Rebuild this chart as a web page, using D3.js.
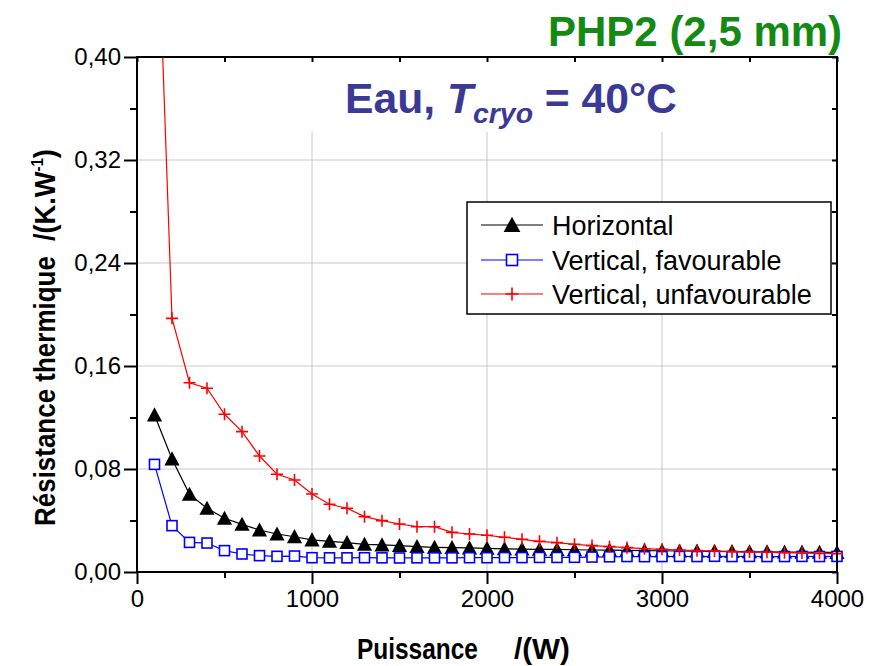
<!DOCTYPE html>
<html>
<head>
<meta charset="utf-8">
<script src="https://cdn.jsdelivr.net/npm/d3@7"></script>
<style>
  body { margin: 0; background: #fff; }
  svg { display: block; }
  text { font-family: Arial, "Liberation Sans", Helvetica, sans-serif; }
</style>
</head>
<body>
<svg width="884" height="666"></svg>
<script>
// puissance (W)
var puissance = [100, 200, 300, 400, 500, 600, 700, 800, 900, 1000,
  1100, 1200, 1300, 1400, 1500, 1600, 1700, 1800, 1900, 2000,
  2100, 2200, 2300, 2400, 2500, 2600, 2700, 2800, 2900, 3000,
  3100, 3200, 3300, 3400, 3500, 3600, 3700, 3800, 3900, 4000];

// résistance thermique (K/W)
var horizontal = [0.122, 0.0878, 0.0603, 0.0495, 0.0417, 0.037, 0.0326, 0.0295, 0.0274, 0.0249,
  0.0238, 0.0228, 0.0215, 0.021, 0.0205, 0.0197, 0.0192, 0.019, 0.0187, 0.0184,
  0.018, 0.0178, 0.0176, 0.0175, 0.0173, 0.0171, 0.017, 0.0168, 0.0166, 0.0165,
  0.0163, 0.0162, 0.016, 0.0159, 0.0157, 0.0156, 0.0155, 0.0154, 0.0153, 0.0152];

var verticalFav = [0.0836, 0.036, 0.023, 0.0225, 0.0166, 0.014, 0.0127, 0.0122, 0.0124, 0.0111,
  0.011, 0.011, 0.0111, 0.011, 0.0109, 0.011, 0.011, 0.011, 0.0111, 0.0111,
  0.0112, 0.0112, 0.0113, 0.0113, 0.0114, 0.0116, 0.0118, 0.012, 0.0119, 0.012,
  0.0121, 0.012, 0.0122, 0.012, 0.0121, 0.012, 0.012, 0.0121, 0.012, 0.0121];

var verticalUnfav = [0.58, 0.197, 0.147, 0.1427, 0.1225, 0.109, 0.0901, 0.0759, 0.0715, 0.0606,
  0.0526, 0.0495, 0.043, 0.0399, 0.0373, 0.0352, 0.0352, 0.0308, 0.0295, 0.0285,
  0.027, 0.0254, 0.0238, 0.0228, 0.0215, 0.0205, 0.0197, 0.0189, 0.0181, 0.0176,
  0.0171, 0.0166, 0.0163, 0.0158, 0.0155, 0.0153, 0.015, 0.0147, 0.0145, 0.0143];

var seriesNames = ["Horizontal", "Vertical, favourable", "Vertical, unfavourable"];

var xMajor = [0, 1000, 2000, 3000, 4000];
var xMinor = [500, 1500, 2500, 3500];
var yMajor = [0, 0.08, 0.16, 0.24, 0.32, 0.40];
var yMinor = [0.04, 0.12, 0.20, 0.28, 0.36];

// plot box (window.top is reserved, so other names)
var pLeft = 137, pRight = 837, pTop = 57, pBottom = 572;

var svg = d3.select("svg");

var x = d3.scaleLinear().domain([0, 4000]).range([pLeft, pRight]);
var y = d3.scaleLinear().domain([0, 0.40]).range([pBottom, pTop]);

var fmtY = function(d) { return d3.format(".2f")(d).replace(".", ","); };

// grid
svg.append("g").selectAll("line")
  .data([1000, 2000, 3000])
  .join("line")
  .attr("x1", d => x(d)).attr("x2", d => x(d))
  .attr("y1", 132).attr("y2", pBottom)
  .attr("stroke", "#c8c8c8").attr("stroke-width", 1);

svg.append("g").selectAll("line")
  .data([0.08, 0.16, 0.24, 0.32])
  .join("line")
  .attr("x1", pLeft).attr("x2", pRight)
  .attr("y1", d => y(d)).attr("y2", d => y(d))
  .attr("stroke", "#c8c8c8").attr("stroke-width", 1);

// clip for lines
svg.append("clipPath").attr("id", "plot")
  .append("rect")
  .attr("x", pLeft).attr("y", pTop)
  .attr("width", pRight - pLeft).attr("height", pBottom - pTop);

function triangle(s) {
  return `M0,${-s}L${s},${s * 0.85}L${-s},${s * 0.85}Z`;
}

var series = [
  {name: seriesNames[0], values: horizontal, color: "#000000", marker: "tri"},
  {name: seriesNames[1], values: verticalFav, color: "#0000ff", marker: "sq"},
  {name: seriesNames[2], values: verticalUnfav, color: "#ff0000", marker: "plus"}
];

function drawMarker(g, type, color, big) {
  var k = big ? 1.1 : 1;
  if (type == "tri") {
    g.append("path").attr("d", triangle(7.6 * k)).attr("fill", "#000");
  } else if (type == "sq") {
    g.append("rect").attr("x", -5 * k).attr("y", -5 * k)
      .attr("width", 10 * k).attr("height", 10 * k)
      .attr("fill", "#fff").attr("stroke", color).attr("stroke-width", 1.6);
  } else {
    g.append("path").attr("d", `M${-6 * k},0H${6 * k}M0,${-6 * k}V${6 * k}`)
      .attr("stroke", color).attr("stroke-width", 1.6).attr("fill", "none");
  }
}

var lineGen = d3.line()
  .x((d, i) => x(puissance[i]))
  .y(d => y(d));

for (const s of series) {
  svg.append("path")
    .attr("d", lineGen(s.values))
    .attr("clip-path", "url(#plot)")
    .attr("fill", "none")
    .attr("stroke", s.color)
    .attr("stroke-width", 1.2);

  s.values.forEach((v, i) => {
    if (v > 0.40) return;
    var g = svg.append("g")
      .attr("transform", `translate(${x(puissance[i])}, ${y(v)})`);
    drawMarker(g, s.marker, s.color, false);
  });
}

// frame
svg.append("rect")
  .attr("x", pLeft).attr("y", pTop)
  .attr("width", pRight - pLeft).attr("height", pBottom - pTop)
  .attr("fill", "none").attr("stroke", "#000").attr("stroke-width", 2);

// axes
function styleAxis(g) {
  g.select(".domain").remove();
  g.selectAll(".tick line").attr("stroke", "#000").attr("stroke-width", 2);
  g.selectAll(".tick text").attr("fill", "#000").attr("font-size", 24);
}

svg.append("g")
  .attr("transform", `translate(0, ${pBottom})`)
  .call(d3.axisBottom(x).tickValues(xMajor).tickSize(12).tickPadding(6).tickFormat(d3.format("d")))
  .call(styleAxis);
svg.append("g")
  .attr("transform", `translate(0, ${pBottom})`)
  .call(d3.axisBottom(x).tickValues(xMinor).tickSize(6).tickFormat(""))
  .call(styleAxis);

svg.append("g")
  .attr("transform", `translate(${pLeft}, 0)`)
  .call(d3.axisLeft(y).tickValues(yMajor).tickSize(13).tickPadding(3).tickFormat(fmtY))
  .call(styleAxis);
svg.append("g")
  .attr("transform", `translate(${pLeft}, 0)`)
  .call(d3.axisLeft(y).tickValues(yMinor).tickSize(7).tickFormat(""))
  .call(styleAxis);

svg.append("g")
  .attr("transform", `translate(0, ${pTop})`)
  .call(d3.axisTop(x).tickValues(xMajor.concat(xMinor)).tickSize(-5).tickFormat(""))
  .call(styleAxis);
svg.append("g")
  .attr("transform", `translate(${pRight}, 0)`)
  .call(d3.axisRight(y).tickValues(yMajor.concat(yMinor)).tickSize(-5).tickFormat(""))
  .call(styleAxis);

// squeeze a text group horizontally to a target width
function fit(g, target) {
  var w = g.node().getBBox().width;
  var t = g.attr("data-t");
  g.attr("transform", t + ` scale(${target / w}, 1)`);
}

// axis titles
var xt1 = svg.append("g").attr("data-t", "translate(357, 659)").attr("transform", "translate(357, 659)");
xt1.append("text").attr("font-size", 29).attr("font-weight", "bold").text("Puissance");
fit(xt1, 121);
var xt2 = svg.append("g").attr("data-t", "translate(514, 659)").attr("transform", "translate(514, 659)");
xt2.append("text").attr("font-size", 29).attr("font-weight", "bold").text("/(W)");
fit(xt2, 56);

var yt1 = svg.append("g").attr("data-t", "translate(55, 526) rotate(-90)").attr("transform", "translate(55, 526) rotate(-90)");
yt1.append("text").attr("font-size", 29).attr("font-weight", "bold").text("Résistance thermique");
fit(yt1, 270);
var yt2 = svg.append("g").attr("data-t", "translate(55, 241) rotate(-90)").attr("transform", "translate(55, 241) rotate(-90)");
var yt2t = yt2.append("text").attr("font-size", 29).attr("font-weight", "bold");
yt2t.append("tspan").text("/(K.W");
yt2t.append("tspan").attr("font-size", 16).attr("dy", -12).text("-1");
yt2t.append("tspan").attr("dy", 12).text(")");
fit(yt2, 92);

// titles
svg.append("text")
  .attr("x", 548).attr("y", 46)
  .attr("font-size", 42).attr("font-weight", "bold")
  .attr("fill", "#138a13")
  .text("PHP2 (2,5 mm)");

var tt = svg.append("g").attr("data-t", "translate(345, 113)").attr("transform", "translate(345, 113)");
var ttx = tt.append("text").attr("font-size", 42).attr("font-weight", "bold").attr("fill", "#3a3a96");
ttx.append("tspan").text("Eau, ");
ttx.append("tspan").attr("font-style", "italic").text("T");
ttx.append("tspan").attr("font-style", "italic").attr("font-size", 28).attr("dy", 10).text("cryo");
ttx.append("tspan").attr("dy", -10).text(" = 40°C");
fit(tt, 332);

// legend
var legend = svg.append("g");
legend.append("rect")
  .attr("x", 467).attr("y", 202)
  .attr("width", 364).attr("height", 112)
  .attr("fill", "#fff").attr("stroke", "#000").attr("stroke-width", 1.5);

var rowY = [225, 260, 294];
series.forEach((s, i) => {
  legend.append("line")
    .attr("x1", 481).attr("x2", 543)
    .attr("y1", rowY[i]).attr("y2", rowY[i])
    .attr("stroke", s.color).attr("stroke-width", 1.2);
  var g = legend.append("g").attr("transform", `translate(512, ${rowY[i]})`);
  drawMarker(g, s.marker, s.color, true);
  legend.append("text")
    .attr("x", 552).attr("y", rowY[i] + 10)
    .attr("font-size", 27)
    .text(s.name);
});
</script>
</body>
</html>
